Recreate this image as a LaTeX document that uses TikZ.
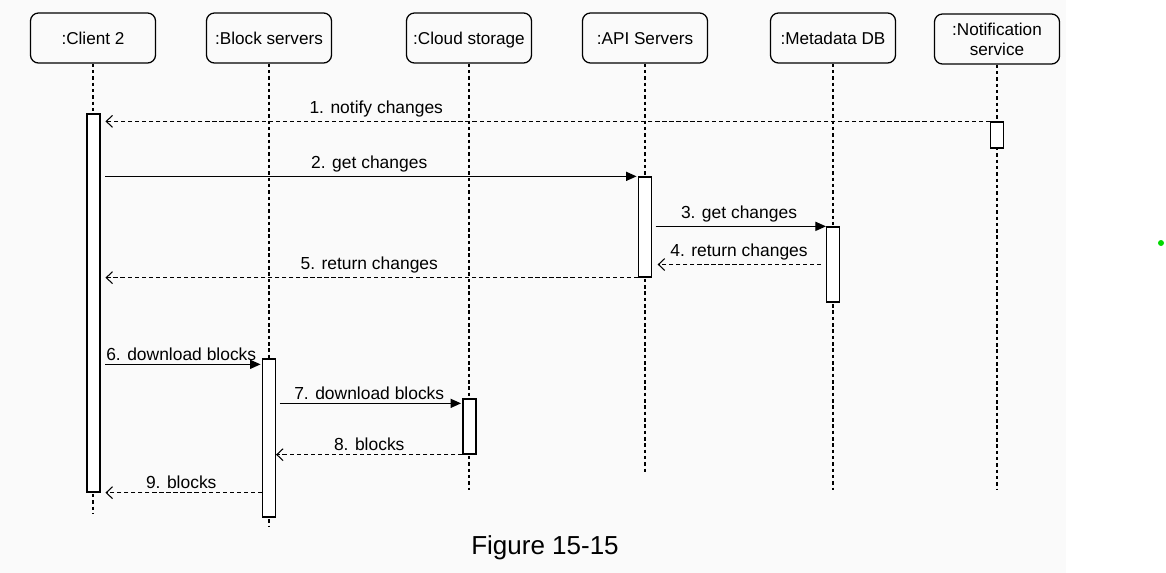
\documentclass[tikz,border=0pt]{standalone}
\usepackage{fontspec}
\setmainfont{Liberation Sans}
\usetikzlibrary{positioning,arrows.meta,calc}

\tikzset{
    lifeline/.style={draw=black,line width=0.8pt,dash pattern=on 2.5pt off 2pt},
    actbar/.style={draw=black,fill=white,line width=0.9pt,minimum width=0.32cm,inner sep=0pt},
    call/.style={draw=black,line width=0.8pt,-{Triangle[length=7.5pt,width=6.5pt]}},
    reply/.style={draw=black,line width=0.75pt,dash pattern=on 3pt off 2pt,-{Straight Barb[length=4.5pt,width=8.5pt]}},
    msglabel/.style={above,inner sep=2.5pt,font=\fontsize{12.4}{14}\selectfont},
    oneline/.style={text height=0.95em,text depth=0pt}
}

\begin{document}
\begin{tikzpicture}[x=0.025cm,y=-0.025cm]
            \useasboundingbox (0,0) rectangle (1166,573);
            \fill[black!2] (0,0) rectangle (1066,573);

            % participants
            \begin{scope}[every node/.style={draw,line width=0.9pt,rounded corners=0.2cm,
                          minimum width=3.125cm,minimum height=1.25cm,align=center,
                          font=\fontsize{12.2}{14.2}\selectfont}]
                \node[oneline] (client) at (93,38) {:Client 2};
                \node[oneline] (block) at (269,38) {:Block servers};
                \node[oneline] (cloud) at (469,38) {:Cloud storage};
                \node[oneline] (api) at (645,38) {:API Servers};
                \node[oneline] (meta) at (833,38) {:Metadata DB};
                \node (notif) at (997,39) {:Notification\\service};
            \end{scope}

            \coordinate (clientEnd) at (93,513);
            \coordinate (blockEnd) at (269,527);
            \coordinate (cloudEnd) at (469,490);
            \coordinate (apiEnd) at (645,474);
            \coordinate (metaEnd) at (833,490);
            \coordinate (notifEnd) at (997,490);

            \foreach \p in {client,block,cloud,api,meta,notif}
                \draw[lifeline] (\p.south) -- (\p End);

            % activation bars
            \node[actbar,minimum height=9.45cm] (clientBar) at (93.5,303) {};
            \node[actbar,minimum height=0.65cm] (notifBar) at (997,135) {};
            \node[actbar,minimum height=2.5cm] (apiBar) at (645,227) {};
            \node[actbar,minimum height=1.875cm] (metaBar) at (833,264.5) {};
            \node[actbar,minimum height=3.95cm] (blockBar) at (269,438) {};
            \node[actbar,minimum height=1.375cm] (cloudBar) at (469.5,426.5) {};

            \coordinate (dl1) at ($(blockBar.north west)+(0,6)$);
            \coordinate (dl2) at ($(cloudBar.north west)+(0,5)$);

            % messages
            \draw[reply,shorten >=3.5pt] (notifBar.north west) -- node[msglabel,pos=0.69] {1. notify changes} (clientBar.east |- notifBar.north west);
            \draw[call,shorten <=3.5pt,shorten >=1pt] (clientBar.east |- apiBar.north west) -- node[msglabel] {2. get changes} (apiBar.north west);
            \draw[call,shorten <=2.5pt] (apiBar.east |- metaBar.north west) -- node[msglabel] {3. get changes} (metaBar.north west);
            \draw[reply,shorten <=3.5pt,shorten >=4pt] (metaBar.west) -- node[msglabel] {4. return changes} (apiBar.east |- metaBar.west);
            \draw[reply,shorten >=3.5pt] (apiBar.south west) -- node[msglabel] {5. return changes} (clientBar.east |- apiBar.south west);
            \draw[call,shorten <=3.5pt,shorten >=1pt] (clientBar.east |- dl1) -- node[msglabel] {6. download blocks} (dl1);
            \draw[call,shorten <=2.5pt,shorten >=1pt] (blockBar.east |- dl2) -- node[msglabel] {7. download blocks} (dl2);
            \draw[reply] (cloudBar.south west) -- node[msglabel] {8. blocks} (blockBar.east |- cloudBar.south west);
            \draw[reply,shorten >=3.5pt] (blockBar.west |- clientBar.south east) -- node[msglabel] {9. blocks} (clientBar.south east);

            \node[font=\fontsize{18.5}{22}\selectfont] (caption) at (545,548) {Figure 15-15};
            \fill[green!85!black] (1161,243) circle (3);
        \end{tikzpicture}
\end{document}
